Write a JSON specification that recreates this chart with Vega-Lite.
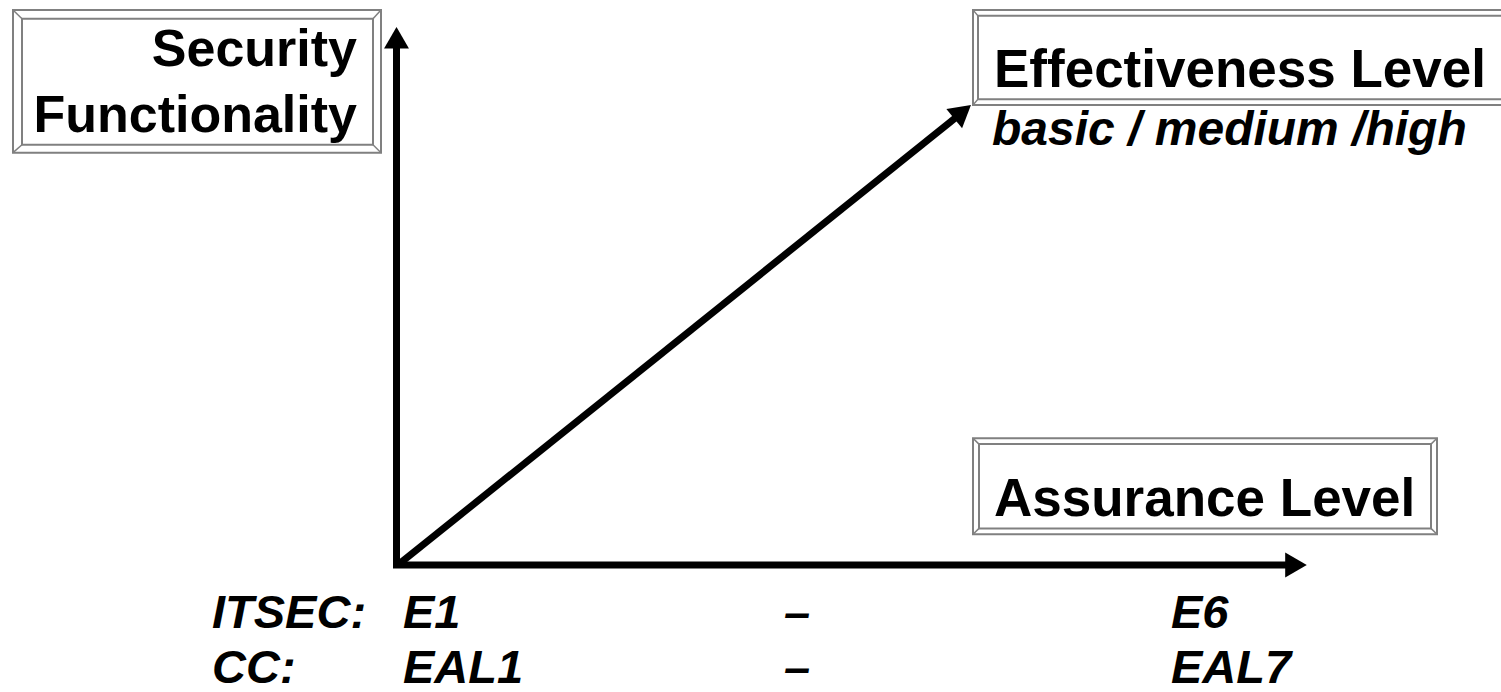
{
  "$schema": "https://vega.github.io/schema/vega-lite/v6.json",
  "width": 1501,
  "height": 692,
  "autosize": {"type": "fit", "contains": "padding"},
  "padding": 0,
  "background": "white",
  "config": {"view": {"stroke": null}},
  "encoding": {
    "x": {"field": "x", "type": "quantitative", "scale": {"domain": [0, 1501], "nice": false, "zero": false}, "axis": null},
    "y": {"field": "y", "type": "quantitative", "scale": {"domain": [0, 692], "nice": false, "zero": false, "reverse": true}, "axis": null}
  },
  "layer": [
    {
      "data": {"values": [
        {"box": "sf-outer", "x": 13, "y": 10, "x2": 381, "y2": 154},
        {"box": "sf-inner", "x": 22, "y": 19, "x2": 373, "y2": 146},
        {"box": "el-outer", "x": 973, "y": 10, "x2": 1520, "y2": 106},
        {"box": "el-inner", "x": 978, "y": 16, "x2": 1520, "y2": 100},
        {"box": "al-outer", "x": 973, "y": 442, "x2": 1437, "y2": 539},
        {"box": "al-inner", "x": 979, "y": 448, "x2": 1431, "y2": 533}
      ]},
      "mark": {"type": "rect", "fill": null, "stroke": "#808080", "strokeWidth": 2, "clip": true},
      "encoding": {"x2": {"field": "x2"}, "y2": {"field": "y2"}}
    },
    {
      "data": {"values": [
        {"x": 13, "y": 10, "x2": 22, "y2": 19},
        {"x": 381, "y": 10, "x2": 373, "y2": 19},
        {"x": 13, "y": 154, "x2": 22, "y2": 146},
        {"x": 381, "y": 154, "x2": 373, "y2": 146},
        {"x": 973, "y": 10, "x2": 978, "y2": 16},
        {"x": 973, "y": 106, "x2": 978, "y2": 100},
        {"x": 973, "y": 442, "x2": 979, "y2": 448},
        {"x": 1437, "y": 442, "x2": 1431, "y2": 448},
        {"x": 973, "y": 539, "x2": 979, "y2": 533},
        {"x": 1437, "y": 539, "x2": 1431, "y2": 533}
      ]},
      "mark": {"type": "rule", "stroke": "#808080", "strokeWidth": 1.5},
      "encoding": {"x2": {"field": "x2"}, "y2": {"field": "y2"}}
    },
    {
      "data": {"values": [
        {"axis": "vertical", "x": 396.5, "y": 573, "x2": 396.5, "y2": 45},
        {"axis": "horizontal", "x": 393, "y": 570, "x2": 1294, "y2": 570},
        {"axis": "diagonal", "x": 399, "y": 569, "x2": 964, "y2": 112}
      ]},
      "mark": {"type": "rule", "stroke": "black", "strokeWidth": 7},
      "encoding": {"x2": {"field": "x2"}, "y2": {"field": "y2"}}
    },
    {
      "data": {"values": [
        {"axis": "vertical", "x": 396.5, "y": 38, "angle": 0},
        {"axis": "horizontal", "x": 1296, "y": 570, "angle": 90},
        {"axis": "diagonal", "x": 962.6, "y": 112.8, "angle": 51}
      ]},
      "mark": {"type": "point", "shape": "triangle-up", "filled": true, "color": "black", "opacity": 1, "size": 620, "strokeWidth": 0},
      "encoding": {"angle": {"field": "angle", "type": "quantitative", "scale": null}}
    },
    {
      "data": {"values": [
        {"label": "Security", "x": 357, "y": 67},
        {"label": "Functionality", "x": 357, "y": 133}
      ]},
      "mark": {"type": "text", "align": "right", "baseline": "alphabetic", "font": "Liberation Sans", "fontWeight": "bold", "fontSize": 52, "color": "black"},
      "encoding": {"text": {"field": "label"}}
    },
    {
      "data": {"values": [
        {"label": "Effectiveness Level", "x": 994, "y": 88},
        {"label": "Assurance Level", "x": 994, "y": 521}
      ]},
      "mark": {"type": "text", "align": "left", "baseline": "alphabetic", "font": "Liberation Sans", "fontWeight": "bold", "fontSize": 53, "color": "black"},
      "encoding": {"text": {"field": "label"}}
    },
    {
      "data": {"values": [
        {"label": "basic / medium /high", "x": 992, "y": 146}
      ]},
      "mark": {"type": "text", "align": "left", "baseline": "alphabetic", "font": "Liberation Sans", "fontWeight": "bold", "fontStyle": "italic", "fontSize": 48, "color": "black"},
      "encoding": {"text": {"field": "label"}}
    },
    {
      "data": {"values": [
        {"label": "ITSEC:", "x": 212, "y": 633},
        {"label": "E1", "x": 403, "y": 633},
        {"label": "–", "x": 784, "y": 633},
        {"label": "E6", "x": 1171, "y": 633},
        {"label": "CC:", "x": 212, "y": 689},
        {"label": "EAL1", "x": 403, "y": 689},
        {"label": "–", "x": 784, "y": 689},
        {"label": "EAL7", "x": 1171, "y": 689}
      ]},
      "mark": {"type": "text", "align": "left", "baseline": "alphabetic", "font": "Liberation Sans", "fontWeight": "bold", "fontStyle": "italic", "fontSize": 47, "color": "black"},
      "encoding": {"text": {"field": "label"}}
    }
  ]
}
